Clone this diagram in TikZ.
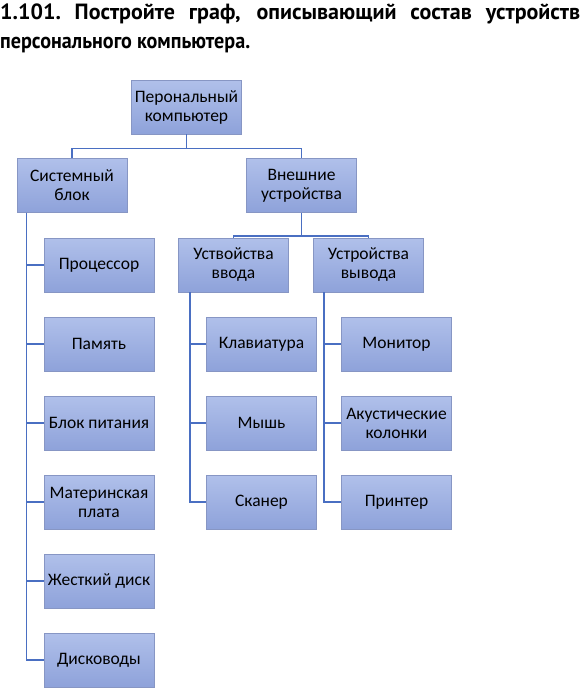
\documentclass[tikz,border=0pt]{standalone}
\usepackage{fontspec}
\setmainfont{Carlito}
\newfontfamily\titlefont{PT Sans}
\definecolor{boxtop}{HTML}{B0C0EA}
\definecolor{boxbot}{HTML}{8EA2DA}
\definecolor{boxedge}{HTML}{8796C4}
\definecolor{linkc}{HTML}{4A6FC2}
\tikzset{
  box/.style={rectangle, minimum width=110pt, minimum height=54pt, inner sep=2pt,
    top color=boxtop, bottom color=boxbot, draw=boxedge, line width=0.8pt,
    align=center, font=\fontsize{17.5}{19}\selectfont, text=black},
  link/.style={draw=linkc, line width=1.5pt},
  ttl/.style={anchor=base west, inner sep=0pt, font=\titlefont\bfseries\fontsize{22}{25}\selectfont}
}
\begin{document}
\begin{tikzpicture}[x=1pt,y=-1pt]
\useasboundingbox (0,0) rectangle (580,689);
\fill[white] (0,0) rectangle (580,689);
\node[ttl] (t1) at (0,19) {\makebox[580pt][s]{1.101.\ Постройте граф, описывающий состав устройств}};
\node[ttl] (t2) at (0,48) {\resizebox{250pt}{\height}{персонального компьютера.}};

\node[box] (pk) at (186.5,107) {Перональный\\компьютер};
\node[box] (sb) at (72,185.5) {Системный\\блок};
\node[box] (vu) at (301.5,185.5) {Внешние\\устройства};

\node[box] (p1) at (99,265) {Процессор};
\node[box] (p2) at (99,344) {Память};
\node[box] (p3) at (99,423) {Блок питания};
\node[box] (p4) at (99,502) {Материнская\\плата};
\node[box] (p5) at (99,581) {Жесткий диск};
\node[box] (p6) at (99,660) {Дисководы};

\node[box] (vv) at (233.5,265) {Уствойства\\ввода};
\node[box] (vy) at (368.5,265) {Устройства\\вывода};

\node[box] (k1) at (261.5,344) {Клавиатура};
\node[box] (k2) at (261.5,423) {Мышь};
\node[box] (k3) at (261.5,502) {Сканер};

\node[box] (m1) at (396.5,344) {Монитор};
\node[box] (m2) at (396.5,423) {Акустические\\колонки};
\node[box] (m3) at (396.5,502) {Принтер};

\coordinate (pkj) at ([yshift=-14pt]pk.south);
\draw[link] (pk.south) -- (pkj) -| (sb.north);
\draw[link] (pkj) -| (vu.north);
\coordinate (vuj) at ([yshift=-23pt]vu.south);
\draw[link] (vu.south) -- (vuj) -| (vv.north);
\draw[link] (vuj) -| (vy.north);

\coordinate (sbt) at ([xshift=10pt]sb.south west);
\foreach \n in {p1,p2,p3,p4,p5,p6} \draw[link] (sbt) |- (\n.west);
\coordinate (vvt) at ([xshift=12pt]vv.south west);
\foreach \n in {k1,k2,k3} \draw[link] (vvt) |- (\n.west);
\coordinate (vyt) at ([xshift=11pt]vy.south west);
\foreach \n in {m1,m2,m3} \draw[link] (vyt) |- (\n.west);
\end{tikzpicture}
\end{document}
